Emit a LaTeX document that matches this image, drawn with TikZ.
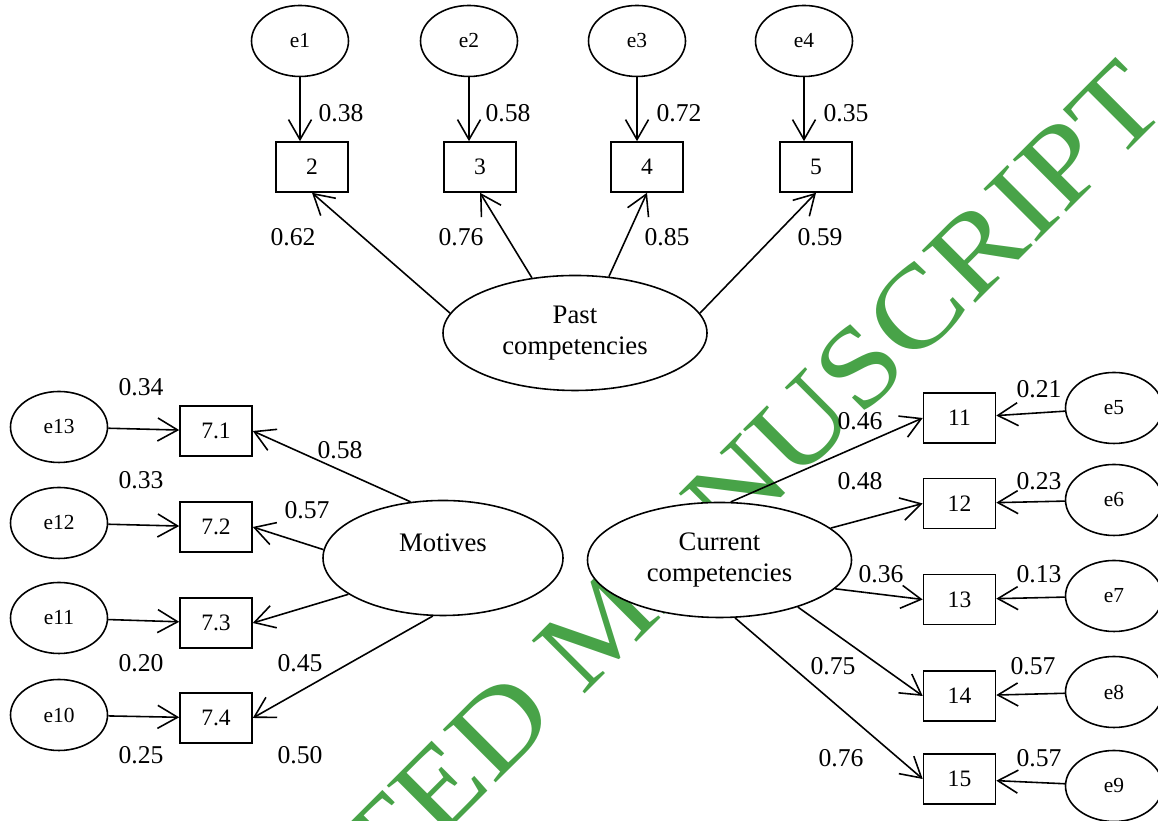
\documentclass[tikz,border=0pt]{standalone}
\usepackage{fontspec}
\setmainfont{Liberation Serif}
\usetikzlibrary{arrows.meta,shapes.geometric}
\definecolor{wmgreen}{RGB}{72,163,72}
\begin{document}
\begin{tikzpicture}[
    line width=0.45pt,
    >={Straight Barb[length=2mm,width=2.3mm]},
    wm/.style={text=wmgreen, inner sep=0pt, anchor=base west, rotate=45, xscale=1.13,
      font=\fontsize{32.5}{33}\selectfont},
    obs/.style={draw, fill=white, rectangle, minimum width=0.72cm, minimum height=0.5cm,
      inner sep=0pt, font=\fontsize{6.7}{8}\selectfont},
    err/.style={draw, fill=white, ellipse, minimum width=0.97cm, minimum height=0.71cm,
      inner sep=0pt, font=\fontsize{6.1}{7}\selectfont},
    lat/.style={draw, fill=white, ellipse, minimum width=2.64cm, minimum height=1.15cm,
      inner sep=0pt, align=center, font=\fontsize{7.6}{8.8}\selectfont},
    num/.style={inner sep=0pt, font=\fontsize{7.3}{8}\selectfont}]
  \useasboundingbox(0, 0) rectangle (11.58, 8.21);
  \clip(0, 0) rectangle (11.58, 8.21);
  \node[wm] (stamp) at (0.87, -3.71) {ACCEPTED MANUSCRIPT};

  \node[err] (e1) at (3.00, 7.80) {e1};
  \node[err] (e2) at (4.69, 7.80) {e2};
  \node[err] (e3) at (6.37, 7.80) {e3};
  \node[err] (e4) at (8.04, 7.80) {e4};
  \node[obs] (b2) at (3.12, 6.54) {2};
  \node[obs] (b3) at (4.80, 6.54) {3};
  \node[obs] (b4) at (6.47, 6.54) {4};
  \node[obs] (b5) at (8.16, 6.54) {5};
  \node[lat] (past) at (5.75, 4.88) {Past\\competencies};
    \draw[->] (e1) to (e1 |- b2.north);
    \draw[->] (e2) to (e2 |- b3.north);
    \draw[->] (e3) to (e3 |- b4.north);
    \draw[->] (e4) to (e4 |- b5.north);
    \draw[->] (past.171) to (b2.south);
    \draw[->] (past.128) to (b3.south);
    \draw[->] (past.59) to (b4.south);
    \draw[->] (past.9) to (b5.south);
  \node[num] (v1) at (3.41, 7.08) {0.38};
  \node[num] (v2) at (5.08, 7.08) {0.58};
  \node[num] (v3) at (6.79, 7.08) {0.72};
  \node[num] (v4) at (8.46, 7.08) {0.35};
  \node[num] (l2) at (2.93, 5.84) {0.62};
  \node[num] (l3) at (4.61, 5.84) {0.76};
  \node[num] (l4) at (6.67, 5.84) {0.85};
  \node[num] (l5) at (8.20, 5.84) {0.59};

  \node[err] (e13) at (0.59, 3.94) {e13};
  \node[err] (e12) at (0.59, 2.98) {e12};
  \node[err] (e11) at (0.59, 2.03) {e11};
  \node[err] (e10) at (0.59, 1.06) {e10};
  \node[obs] (b71) at (2.16, 3.90) {7.1};
  \node[obs] (b72) at (2.16, 2.94) {7.2};
  \node[obs] (b73) at (2.16, 1.98) {7.3};
  \node[obs] (b74) at (2.16, 1.03) {7.4};
  \node[lat, minimum width=2.40cm] (motives) at (4.43, 2.63) {Motives\\\mbox{}};
    \draw[->] (e13) to (b71);
    \draw[->] (e12) to (b72);
    \draw[->] (e11) to (b73);
    \draw[->] (e10) to (b74);
    \draw[->] (motives.120) to (b71.east);
    \draw[->] (motives.176) to (b72.east);
    \draw[->] (motives.201) to (b73.east);
    \draw[->] (motives.260) to (b74.east);
  \node[num] (v13) at (1.41, 4.34) {0.34};
  \node[num] (v12) at (1.41, 3.41) {0.33};
  \node[num] (v11) at (1.41, 1.58) {0.20};
  \node[num] (v10) at (1.41, 0.66) {0.25};
  \node[num] (l71) at (3.40, 3.71) {0.58};
  \node[num] (l72) at (3.07, 3.11) {0.57};
  \node[num] (l73) at (3.00, 1.58) {0.45};
  \node[num] (l74) at (3.00, 0.66) {0.50};

  \node[lat] (current) at (7.195, 2.61) {Current\\competencies};
  \node[obs] (b11) at (9.595, 4.03) {11};
  \node[obs] (b12) at (9.595, 3.175) {12};
  \node[obs] (b13) at (9.595, 2.215) {13};
  \node[obs] (b14) at (9.595, 1.25) {14};
  \node[obs] (b15) at (9.595, 0.42) {15};
  \node[err] (e5) at (11.14, 4.13) {e5};
  \node[err] (e6) at (11.14, 3.21) {e6};
  \node[err] (e7) at (11.14, 2.25) {e7};
  \node[err] (e8) at (11.14, 1.29) {e8};
  \node[err] (e9) at (11.14, 0.35) {e9};
    \draw[->] (e5) to (b11);
    \draw[->] (e6) to (b12);
    \draw[->] (e7) to (b13);
    \draw[->] (e8) to (b14);
    \draw[->] (e9) to (b15);
    \draw[->] (current.79) to (b11.west);
    \draw[->] (current.16) to (b12.west);
    \draw[->] (current.346.5) to (b13.west);
    \draw[->] (current.329) to (b14.west);
    \draw[->] (current.285) to (b15.west);
  \node[num] (v5) at (10.39, 4.32) {0.21};
  \node[num] (v6) at (10.39, 3.40) {0.23};
  \node[num] (v7) at (10.39, 2.47) {0.13};
  \node[num] (v8) at (10.33, 1.55) {0.57};
  \node[num] (v9) at (10.39, 0.63) {0.57};
  \node[num] (l11) at (8.60, 4.00) {0.46};
  \node[num] (l12) at (8.60, 3.40) {0.48};
  \node[num] (l13) at (8.81, 2.47) {0.36};
  \node[num] (l14) at (8.33, 1.55) {0.75};
  \node[num] (l15) at (8.41, 0.63) {0.76};
\end{tikzpicture}
\end{document}
